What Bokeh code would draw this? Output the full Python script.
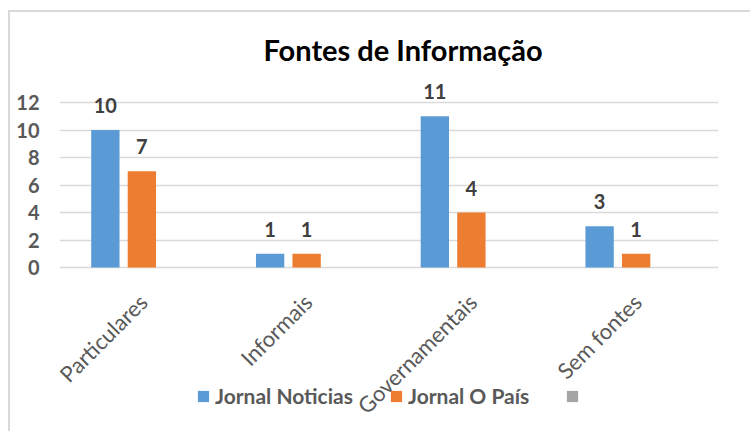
import math
from bokeh.plotting import figure
from bokeh.models import (ColumnDataSource, FactorRange, Range1d, FixedTicker,
                          LabelSet, Legend, LegendItem)
from bokeh.core.properties import value
from bokeh.transform import dodge
from bokeh.embed import file_html
from bokeh.resources import INLINE

categories = ["Particulares", "Informais", "Governamentais", "Sem fontes"]
jornal_noticias = [10, 1, 11, 3]
jornal_o_pais = [7, 1, 4, 1]
serie_vazia = [0, 0, 0, 0]
series_names = ["Jornal Noticias", "Jornal O País", ""]
y_ticks = [0, 2, 4, 6, 8, 10, 12]

FONT = "Lato"
BLUE, ORANGE, GRAY = "#5B9BD5", "#ED7D31", "#A5A5A5"

source = ColumnDataSource(dict(
    cat=categories,
    a=jornal_noticias, b=jornal_o_pais, c=serie_vazia,
    base=[0] * len(categories),
    a_lbl=[str(v) for v in jornal_noticias],
    b_lbl=[str(v) for v in jornal_o_pais],
))

p = figure(width=742, height=421, output_backend="svg", toolbar_location=None,
           x_range=FactorRange(*categories, range_padding=0),
           y_range=Range1d(-11.49, 13.6),
           min_border_left=49, min_border_right=34,
           min_border_top=68, min_border_bottom=8,
           title="Fontes de Informação")
p.styles = {"border-left": "2px solid #d9d9d9", "border-top": "2px solid #d9d9d9",
            "margin-left": "8px", "margin-top": "10px"}

p.title.text_font = FONT
p.title.text_font_size = "29px"
p.title.text_font_style = "bold"
p.title.text_color = "#000000"
p.title.align = "left"
p.title.offset = 204
p.title.standoff = 27

off = 0.2216
w = 0.172
r1 = p.vbar(x=dodge("cat", -off, range=p.x_range), top="a", width=w, bottom=0,
            source=source, fill_color=BLUE, line_color=None)
r2 = p.vbar(x=dodge("cat", 0.0, range=p.x_range), top="b", width=w, bottom=0,
            source=source, fill_color=ORANGE, line_color=None)
r3 = p.vbar(x=dodge("cat", off, range=p.x_range), top="c", width=w, bottom=0,
            source=source, fill_color=GRAY, line_color=None)

# data labels
for col, lbl, dx in (("a", "a_lbl", -off), ("b", "b_lbl", 0.0)):
    p.add_layout(LabelSet(x=dodge("cat", dx, range=p.x_range), y=col, text=lbl,
                          source=source, y_offset=17, text_align="center",
                          text_baseline="bottom", text_font=value(FONT),
                          text_font_size=value("20px"), text_font_style="bold",
                          text_color="#404040"))

legend = Legend(items=[LegendItem(label=series_names[0], renderers=[r1]),
                       LegendItem(label=series_names[1], renderers=[r2]),
                       LegendItem(label=series_names[2], renderers=[r3])],
                orientation="horizontal", location=(137, 17),
                glyph_width=14, glyph_height=14, label_standoff=5, spacing=36,
                padding=0, margin=0, label_height=20,
                label_text_font=FONT, label_text_font_size="21px",
                label_text_font_style="bold", label_text_color="#595959",
                border_line_color=None, background_fill_alpha=0)
p.add_layout(legend, "center")

# category labels (rotated, like the category axis), drawn over the legend
p.add_layout(LabelSet(x=dodge("cat", -0.05, range=p.x_range), y="base", text="cat",
                      source=source, y_offset=-21, angle=math.pi / 4,
                      text_align="right", text_baseline="top",
                      text_font=value(FONT), text_font_size=value("22px"),
                      text_color="#595959"))

p.yaxis.ticker = FixedTicker(ticks=y_ticks)
p.yaxis.axis_line_color = None
p.yaxis.major_tick_line_color = None
p.yaxis.minor_tick_line_color = None
p.yaxis.major_tick_out = 0
p.yaxis.major_label_standoff = 20
p.yaxis.major_label_text_font = FONT
p.yaxis.major_label_text_font_size = "20px"
p.yaxis.major_label_text_font_style = "bold"
p.yaxis.major_label_text_color = "#595959"

p.xaxis.visible = False

p.xgrid.grid_line_color = None
p.ygrid.ticker = FixedTicker(ticks=y_ticks)
p.ygrid.grid_line_color = "#d9d9d9"
p.ygrid.grid_line_width = 1.5
p.outline_line_color = None

open("out.html", "w").write(file_html(p, INLINE))
